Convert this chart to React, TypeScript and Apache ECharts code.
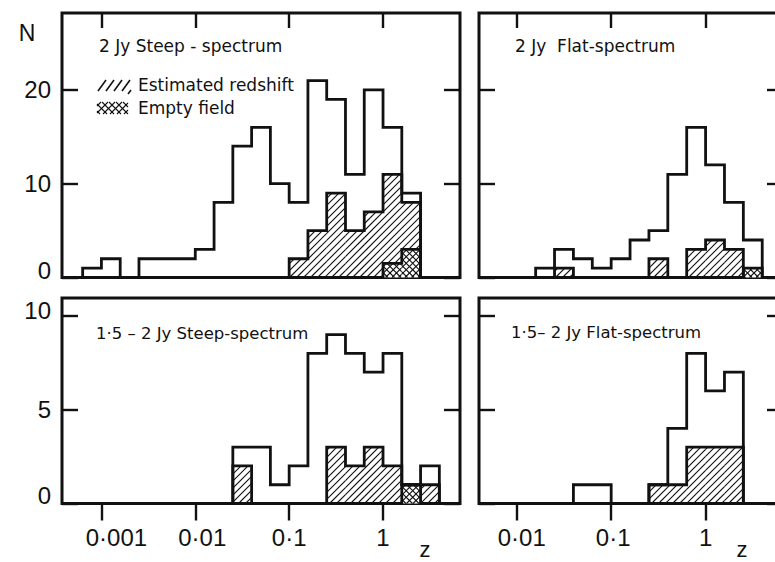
import React, { useEffect, useRef } from "react";
import * as echarts from "echarts";

// Redshift histograms, bins of 0.2 in log10 z. Each series: first bin's lower edge (log10 z) + counts.
const BIN = 0.2;

// 2 Jy steep-spectrum
const steep2Start = -3.2;
const steep2All = [1, 2, 0, 2, 2, 2, 3, 8, 14, 16, 10, 8, 21, 19, 11, 20, 16, 9];
const steep2EstStart = -1.0;
const steep2Est = [2, 5, 9, 5, 7, 11, 8];
const steep2EmptyStart = 0.0;
const steep2Empty = [1.5, 3];

// 2 Jy flat-spectrum
const flat2Start = -1.8;
const flat2All = [1, 3, 2, 1, 2, 4, 5, 11, 16, 12, 8, 4];
const flat2EstStart = -1.6;
const flat2Est = [1, 0, 0, 0, 0, 2, 0, 3, 4, 3];
const flat2EmptyStart = 0.4;
const flat2Empty = [1];

// 1.5-2 Jy steep-spectrum
const steep15Start = -1.6;
const steep15All = [3, 3, 1, 2, 8, 9, 8, 7, 8, 1, 2];
const steep15EstStart = -1.6;
const steep15Est = [2, 0, 0, 0, 0, 3, 2, 3, 2, 1, 1];
const steep15EmptyStart = 0.2;
const steep15Empty = [1];

// 1.5-2 Jy flat-spectrum
const flat15Start = -1.4;
const flat15All = [1, 1, 0, 0, 1, 4, 8, 6, 7];
const flat15EstStart = -0.6;
const flat15Est = [1, 1, 3, 3, 3];

// Axis ticks
const zTicks = [0.001, 0.01, 0.1, 1];
const zTickText = ["0·001", "0·01", "0·1", "1"];
const nTicksTop = [0, 10, 20];
const nTicksBottom = [0, 5, 10];

// Axis ranges (x in log10 z)
const LEFT_X = [-3.42, 0.82];
const RIGHT_X = [-2.4, 0.82];
const TOP_N_MAX = 28.2;
const BOTTOM_N_MAX = 10.95;

// The right-hand panels run a little past the visible page edge, so the
// drawing surface is wider than the window and the overflow is hidden.
const CANVAS_W = 800;
const CANVAS_H = 562;

const INK = "#111";
const LABEL_FONT = "'Liberation Sans', Arial, sans-serif";
const TEXT_FONT = "'DejaVu Sans', sans-serif";

const exp10 = (v: number) => Math.round(Math.log10(v));

function hatchSegments(x0: number, y0: number, x1: number, y1: number, step: number, dir: number) {
  const segs: number[][] = [];
  if (dir > 0) {
    const cStart = Math.ceil((x0 + y0) / step) * step;
    for (let c = cStart; c <= x1 + y1; c += step) {
      const xa = Math.max(x0, c - y1);
      const xb = Math.min(x1, c - y0);
      if (xb - xa > 0.3) segs.push([xa, c - xa, xb, c - xb]);
    }
  } else {
    const cStart = Math.ceil((x0 - y1) / step) * step;
    for (let c = cStart; c <= x1 - y0; c += step) {
      const xa = Math.max(x0, c + y0);
      const xb = Math.min(x1, c + y1);
      if (xb - xa > 0.3) segs.push([xa, xa - c, xb, xb - c]);
    }
  }
  return segs;
}

function fillSeries(grid: number, start: number, counts: number[], kind: "hatch" | "cross", z: number) {
  const data = counts
    .map((n, i) => [start + i * BIN, start + (i + 1) * BIN, n])
    .filter((d) => d[2] > 0);
  return {
    type: "custom",
    xAxisIndex: grid,
    yAxisIndex: grid * 2,
    data,
    z,
    silent: true,
    clip: false,
    encode: { x: [0, 1], y: 2 },
    renderItem: (_params: any, api: any) => {
      const a = api.coord([api.value(0), api.value(2)]);
      const b = api.coord([api.value(1), 0]);
      const x0 = a[0], y0 = a[1], x1 = b[0], y1 = b[1];
      const children: any[] = [];
      if (kind === "cross") {
        children.push({
          type: "rect",
          shape: { x: x0, y: y0, width: x1 - x0, height: y1 - y0 },
          style: { fill: "#fff" },
        });
      }
      const dirs = kind === "cross" ? [1, -1] : [1];
      const step = kind === "cross" ? 6.5 : 7;
      for (const d of dirs) {
        for (const s of hatchSegments(x0, y0, x1, y1, step, d)) {
          children.push({
            type: "line",
            shape: { x1: s[0], y1: s[1], x2: s[2], y2: s[3] },
            style: { stroke: INK, lineWidth: 1.1 },
          });
        }
      }
      return { type: "group", children };
    },
  };
}

function outlineSeries(grid: number, start: number, counts: number[], z: number) {
  const pts: number[][] = [[start, 0]];
  counts.forEach((n, i) => {
    pts.push([start + i * BIN, n]);
    pts.push([start + (i + 1) * BIN, n]);
  });
  pts.push([start + counts.length * BIN, 0]);
  return {
    type: "line",
    xAxisIndex: grid,
    yAxisIndex: grid * 2,
    data: pts,
    symbol: "none",
    clip: false,
    silent: true,
    z,
    lineStyle: { color: INK, width: 2.8, join: "miter", cap: "square" },
  };
}

function xAxisFor(grid: number, range: number[], top: boolean, shifts: Record<string, number>) {
  const ticks = zTicks.filter((t) => Math.log10(t) >= range[0]).map((t) => exp10(t));
  const rich: any = {};
  zTickText.forEach((_t, i) => {
    rich["t" + i] = {
      fontFamily: LABEL_FONT,
      fontSize: 24,
      color: INK,
      padding: [0, 0, 0, 2 * (shifts[zTickText[i]] || 0)],
    };
  });
  return {
    type: "value",
    gridIndex: grid,
    min: range[0],
    max: range[1],
    position: top ? "top" : "bottom",
    axisLine: { show: false, onZero: false },
    splitLine: { show: false },
    axisTick: {
      show: true,
      inside: top,
      length: top ? 15 : 17,
      customValues: ticks,
      lineStyle: { color: INK, width: 2.4 },
    },
    axisLabel: top
      ? { show: false }
      : {
          show: true,
          customValues: ticks,
          margin: 22,
          fontFamily: LABEL_FONT,
          fontSize: 24,
          color: INK,
          formatter: (v: number) => {
            const i = zTicks.findIndex((t) => exp10(t) === Math.round(v));
            return i < 0 ? "" : `{t${i}|${zTickText[i]}}`;
          },
          rich,
        },
  };
}

function yAxesFor(grid: number, max: number, ticks: number[], labels: boolean, lift: Record<string, number>) {
  const common = {
    type: "value",
    gridIndex: grid,
    min: 0,
    max,
    axisLine: { show: false, onZero: false },
    axisTick: {
      show: true,
      inside: true,
      length: 16,
      customValues: ticks,
      lineStyle: { color: INK, width: 2.4 },
    },
    splitLine: { show: false },
  };
  const rich: any = {};
  ticks.forEach((t) => {
    rich["n" + t] = {
      fontFamily: LABEL_FONT,
      fontSize: 24,
      color: INK,
      padding: [0, 0, 2 * (lift[String(t)] || 0), 0],
    };
  });
  return [
    {
      ...common,
      position: "left",
      axisLabel: labels
        ? {
            show: true,
            customValues: ticks,
            margin: 11,
            fontFamily: LABEL_FONT,
            fontSize: 24,
            color: INK,
            formatter: (v: number) => `{n${v}|${v}}`,
            rich,
          }
        : { show: false },
    },
    { ...common, position: "right", axisLabel: { show: false } },
  ];
}

function text(str: string, x: number, y: number, size: number, font: string, align = "left") {
  return {
    type: "text",
    x,
    y,
    silent: true,
    style: {
      text: str,
      fontSize: size,
      fontFamily: font,
      fill: INK,
      align,
      textAlign: align,
      verticalAlign: "middle",
      textVerticalAlign: "middle",
    },
  };
}

function legendGraphics() {
  const els: any[] = [];
  for (let k = 0; k < 4; k++) {
    els.push({
      type: "line",
      silent: true,
      shape: { x1: 98 + k * 8, y1: 91, x2: 106 + k * 8, y2: 80 },
      style: { stroke: INK, lineWidth: 1.6 },
    });
  }
  els.push({
    type: "line",
    silent: true,
    shape: { x1: 131, y1: 90, x2: 128, y2: 94 },
    style: { stroke: INK, lineWidth: 1.6 },
  });
  for (const d of [1, -1]) {
    for (const s of hatchSegments(97, 102, 128, 114, 7, d)) {
      els.push({
        type: "line",
        silent: true,
        shape: { x1: s[0], y1: s[1], x2: s[2], y2: s[3] },
        style: { stroke: INK, lineWidth: 1.1 },
      });
    }
  }
  els.push(text("Estimated redshift", 138, 85, 17, TEXT_FONT));
  els.push(text("Empty field", 138, 108, 17, TEXT_FONT));
  return els;
}

export default function App() {
  const ref = useRef<HTMLDivElement>(null);

  useEffect(() => {
    if (!ref.current) return;
    document.documentElement.style.overflow = "hidden";
    document.body.style.overflow = "hidden";
    const chart = echarts.init(ref.current, null, { renderer: "svg", width: CANVAS_W, height: CANVAS_H });

    const gridStyle = { show: true, borderColor: INK, borderWidth: 3 };

    const option: any = {
      animation: false,
      backgroundColor: "#fff",
      grid: [
        { ...gridStyle, left: 62, top: 13, width: 398, height: 264.5 },
        { ...gridStyle, left: 479, top: 13, width: 304, height: 264.5 },
        { ...gridStyle, left: 62, top: 298, width: 398, height: 205.5 },
        { ...gridStyle, left: 479, top: 298, width: 304, height: 205.5 },
      ],
      xAxis: [
        xAxisFor(0, LEFT_X, true, {}),
        xAxisFor(1, RIGHT_X, true, {}),
        xAxisFor(2, LEFT_X, false, { "0·001": 15, "0·01": 7 }),
        xAxisFor(3, RIGHT_X, false, { "0·01": 5, "0·1": 2 }),
      ],
      yAxis: [
        ...yAxesFor(0, TOP_N_MAX, nTicksTop, true, { "0": 7 }),
        ...yAxesFor(1, TOP_N_MAX, nTicksTop, false, {}),
        ...yAxesFor(2, BOTTOM_N_MAX, nTicksBottom, true, { "0": 8, "10": 5 }),
        ...yAxesFor(3, BOTTOM_N_MAX, nTicksBottom, false, {}),
      ],
      series: [
        // 2 Jy steep
        fillSeries(0, steep2EstStart, steep2Est, "hatch", 3),
        fillSeries(0, steep2EmptyStart, steep2Empty, "cross", 4),
        outlineSeries(0, steep2Start, steep2All, 6),
        outlineSeries(0, steep2EstStart, steep2Est, 6),
        outlineSeries(0, steep2EmptyStart, steep2Empty, 6),
        // 2 Jy flat
        fillSeries(1, flat2EstStart, flat2Est, "hatch", 3),
        fillSeries(1, flat2EmptyStart, flat2Empty, "cross", 4),
        outlineSeries(1, flat2Start, flat2All, 6),
        outlineSeries(1, flat2EstStart, flat2Est, 6),
        outlineSeries(1, flat2EmptyStart, flat2Empty, 6),
        // 1.5-2 Jy steep
        fillSeries(2, steep15EstStart, steep15Est, "hatch", 3),
        fillSeries(2, steep15EmptyStart, steep15Empty, "cross", 4),
        outlineSeries(2, steep15Start, steep15All, 6),
        outlineSeries(2, steep15EstStart, steep15Est, 6),
        outlineSeries(2, steep15EmptyStart, steep15Empty, 6),
        // 1.5-2 Jy flat
        fillSeries(3, flat15EstStart, flat15Est, "hatch", 3),
        outlineSeries(3, flat15Start, flat15All, 6),
        outlineSeries(3, flat15EstStart, flat15Est, 6),
      ],
      graphic: [
        text("N", 27, 33, 23, LABEL_FONT, "center"),
        text("2 Jy Steep - spectrum", 99, 46, 17, TEXT_FONT),
        text("2 Jy  Flat-spectrum", 515, 46, 17, TEXT_FONT),
        text("1·5 – 2 Jy Steep-spectrum", 96, 333, 16.5, TEXT_FONT),
        text("1·5– 2 Jy Flat-spectrum", 511, 332, 16.5, TEXT_FONT),
        text("z", 425, 549, 22, LABEL_FONT, "center"),
        text("z", 742, 549, 22, LABEL_FONT, "center"),
        ...legendGraphics(),
      ],
    };

    chart.setOption(option);
    return () => chart.dispose();
  }, []);

  return (
    <div
      ref={ref}
      style={{ position: "absolute", left: 0, top: 0, width: CANVAS_W, height: CANVAS_H, background: "#fff" }}
    />
  );
}
